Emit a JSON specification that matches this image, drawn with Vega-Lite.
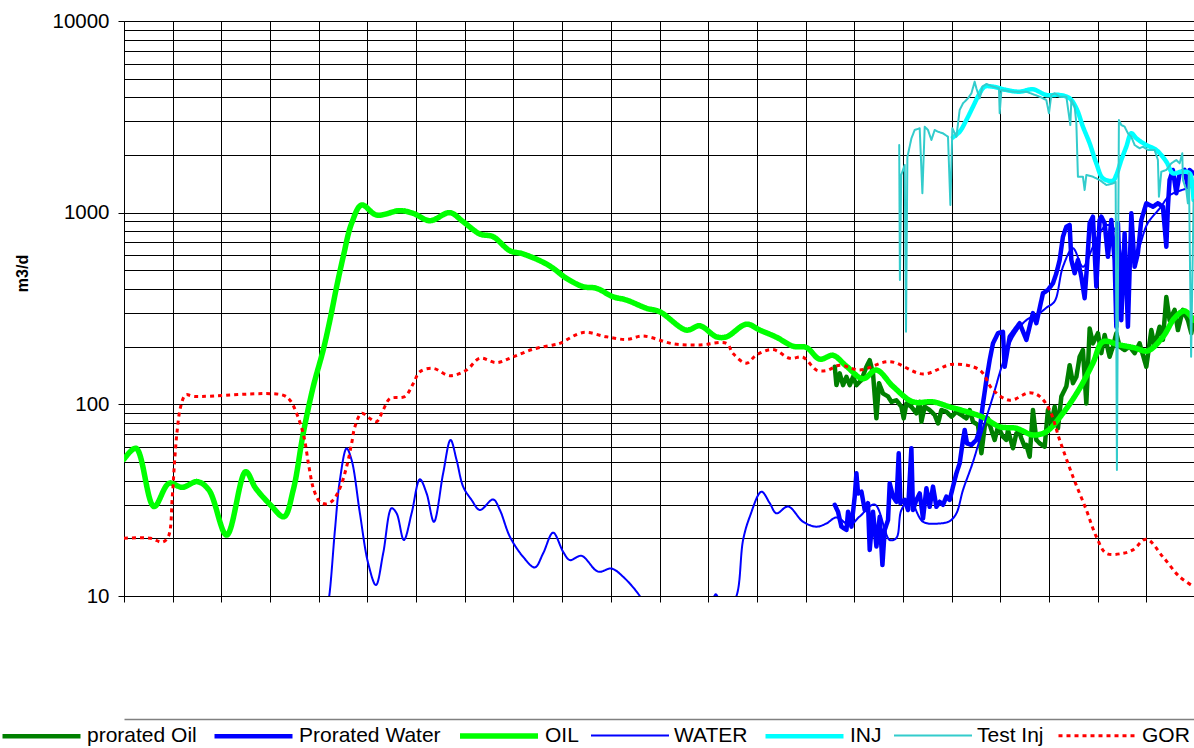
{
"$schema": "https://vega.github.io/schema/vega-lite/v6.json",
"width": 1071, "height": 575,
"autosize": "none",
"padding": {"left": 124, "top": 21, "right": 0, "bottom": 152},
"background": "white",
"datasets": {"d": [
{"s":"prorated Oil","t":14.600,"v":157},{"s":"prorated Oil","t":14.635,"v":126},{"s":"prorated Oil","t":14.702,"v":145},{"s":"prorated Oil","t":14.770,"v":126},{"s":"prorated Oil","t":14.840,"v":139},{"s":"prorated Oil","t":14.908,"v":126},{"s":"prorated Oil","t":14.975,"v":139},{"s":"prorated Oil","t":15.045,"v":126},{"s":"prorated Oil","t":15.148,"v":134},{"s":"prorated Oil","t":15.250,"v":157},{"s":"prorated Oil","t":15.318,"v":170},{"s":"prorated Oil","t":15.386,"v":145},{"s":"prorated Oil","t":15.456,"v":84.5},{"s":"prorated Oil","t":15.509,"v":129},{"s":"prorated Oil","t":15.591,"v":114},{"s":"prorated Oil","t":15.694,"v":110},{"s":"prorated Oil","t":15.764,"v":103},{"s":"prorated Oil","t":15.867,"v":105},{"s":"prorated Oil","t":15.969,"v":97.2},{"s":"prorated Oil","t":16.016,"v":84.5},{"s":"prorated Oil","t":16.072,"v":101},{"s":"prorated Oil","t":16.174,"v":97.2},{"s":"prorated Oil","t":16.277,"v":89.8},{"s":"prorated Oil","t":16.345,"v":103},{"s":"prorated Oil","t":16.380,"v":81.2},{"s":"prorated Oil","t":16.448,"v":97.2},{"s":"prorated Oil","t":16.550,"v":93.4},{"s":"prorated Oil","t":16.653,"v":88},{"s":"prorated Oil","t":16.721,"v":79.6},{"s":"prorated Oil","t":16.791,"v":93.4},{"s":"prorated Oil","t":16.893,"v":91.5},{"s":"prorated Oil","t":16.996,"v":86.2},{"s":"prorated Oil","t":17.099,"v":91.5},{"s":"prorated Oil","t":17.201,"v":88},{"s":"prorated Oil","t":17.304,"v":84.5},{"s":"prorated Oil","t":17.372,"v":93.4},{"s":"prorated Oil","t":17.439,"v":81.2},{"s":"prorated Oil","t":17.542,"v":78},{"s":"prorated Oil","t":17.612,"v":55.5},{"s":"prorated Oil","t":17.680,"v":76.4},{"s":"prorated Oil","t":17.747,"v":84.5},{"s":"prorated Oil","t":17.817,"v":73.5},{"s":"prorated Oil","t":17.885,"v":65.2},{"s":"prorated Oil","t":17.953,"v":76.4},{"s":"prorated Oil","t":18.055,"v":67.8},{"s":"prorated Oil","t":18.125,"v":65.2},{"s":"prorated Oil","t":18.158,"v":73.5},{"s":"prorated Oil","t":18.261,"v":59},{"s":"prorated Oil","t":18.331,"v":70.6},{"s":"prorated Oil","t":18.398,"v":70.6},{"s":"prorated Oil","t":18.433,"v":66.5},{"s":"prorated Oil","t":18.501,"v":60.1},{"s":"prorated Oil","t":18.536,"v":61.4},{"s":"prorated Oil","t":18.604,"v":53.3},{"s":"prorated Oil","t":18.671,"v":93.4},{"s":"prorated Oil","t":18.741,"v":65.2},{"s":"prorated Oil","t":18.809,"v":62.6},{"s":"prorated Oil","t":18.912,"v":60.1},{"s":"prorated Oil","t":18.979,"v":93.4},{"s":"prorated Oil","t":19.049,"v":79.6},{"s":"prorated Oil","t":19.117,"v":97.2},{"s":"prorated Oil","t":19.185,"v":75},{"s":"prorated Oil","t":19.255,"v":110},{"s":"prorated Oil","t":19.357,"v":124},{"s":"prorated Oil","t":19.425,"v":160},{"s":"prorated Oil","t":19.493,"v":129},{"s":"prorated Oil","t":19.563,"v":139},{"s":"prorated Oil","t":19.630,"v":177},{"s":"prorated Oil","t":19.698,"v":192},{"s":"prorated Oil","t":19.768,"v":101},{"s":"prorated Oil","t":19.836,"v":249},{"s":"prorated Oil","t":19.903,"v":208},{"s":"prorated Oil","t":20.006,"v":235},{"s":"prorated Oil","t":20.076,"v":185},{"s":"prorated Oil","t":20.144,"v":230},{"s":"prorated Oil","t":20.246,"v":177},{"s":"prorated Oil","t":20.314,"v":200},{"s":"prorated Oil","t":20.384,"v":235},{"s":"prorated Oil","t":20.452,"v":200},{"s":"prorated Oil","t":20.554,"v":192},{"s":"prorated Oil","t":20.657,"v":200},{"s":"prorated Oil","t":20.760,"v":185},{"s":"prorated Oil","t":20.862,"v":208},{"s":"prorated Oil","t":21.000,"v":157},{"s":"prorated Oil","t":21.103,"v":244},{"s":"prorated Oil","t":21.170,"v":200},{"s":"prorated Oil","t":21.273,"v":254},{"s":"prorated Oil","t":21.341,"v":217},{"s":"prorated Oil","t":21.411,"v":363},{"s":"prorated Oil","t":21.478,"v":275},{"s":"prorated Oil","t":21.581,"v":311},{"s":"prorated Oil","t":21.649,"v":244},{"s":"prorated Oil","t":21.752,"v":311},{"s":"prorated Oil","t":21.854,"v":275},{"s":"prorated Oil","t":21.924,"v":235},{"s":"prorated Oil","t":21.971,"v":275},
{"s":"Prorated Water","t":14.600,"v":29.9},{"s":"Prorated Water","t":14.667,"v":27.5},{"s":"Prorated Water","t":14.737,"v":23},{"s":"Prorated Water","t":14.840,"v":22.1},{"s":"Prorated Water","t":14.873,"v":27.5},{"s":"Prorated Water","t":14.943,"v":23},{"s":"Prorated Water","t":15.010,"v":33},{"s":"Prorated Water","t":15.045,"v":43.7},{"s":"Prorated Water","t":15.078,"v":34.3},{"s":"Prorated Water","t":15.148,"v":35},{"s":"Prorated Water","t":15.216,"v":28.1},{"s":"Prorated Water","t":15.283,"v":30.5},{"s":"Prorated Water","t":15.318,"v":17.4},{"s":"Prorated Water","t":15.386,"v":27.5},{"s":"Prorated Water","t":15.456,"v":18.1},{"s":"Prorated Water","t":15.524,"v":25.9},{"s":"Prorated Water","t":15.579,"v":14.5},{"s":"Prorated Water","t":15.626,"v":22.1},{"s":"Prorated Water","t":15.694,"v":24.9},{"s":"Prorated Water","t":15.729,"v":38.7},{"s":"Prorated Water","t":15.797,"v":33},{"s":"Prorated Water","t":15.867,"v":31},{"s":"Prorated Water","t":15.914,"v":55.5},{"s":"Prorated Water","t":15.949,"v":30.5},{"s":"Prorated Water","t":16.037,"v":31.7},{"s":"Prorated Water","t":16.105,"v":28.1},{"s":"Prorated Water","t":16.174,"v":59},{"s":"Prorated Water","t":16.207,"v":28.1},{"s":"Prorated Water","t":16.277,"v":31.7},{"s":"Prorated Water","t":16.345,"v":34.3},{"s":"Prorated Water","t":16.413,"v":25.4},{"s":"Prorated Water","t":16.483,"v":36.5},{"s":"Prorated Water","t":16.550,"v":29.2},{"s":"Prorated Water","t":16.618,"v":37.2},{"s":"Prorated Water","t":16.688,"v":29.2},{"s":"Prorated Water","t":16.756,"v":31},{"s":"Prorated Water","t":16.824,"v":29.9},{"s":"Prorated Water","t":16.893,"v":33},{"s":"Prorated Water","t":16.961,"v":31.7},{"s":"Prorated Water","t":17.029,"v":37.2},{"s":"Prorated Water","t":17.099,"v":43.7},{"s":"Prorated Water","t":17.166,"v":49.2},{"s":"Prorated Water","t":17.234,"v":65.2},{"s":"Prorated Water","t":17.269,"v":73.5},{"s":"Prorated Water","t":17.316,"v":62.6},{"s":"Prorated Water","t":17.407,"v":61.4},{"s":"Prorated Water","t":17.509,"v":65.2},{"s":"Prorated Water","t":17.577,"v":73.5},{"s":"Prorated Water","t":17.645,"v":101},{"s":"Prorated Water","t":17.715,"v":134},{"s":"Prorated Water","t":17.782,"v":170},{"s":"Prorated Water","t":17.850,"v":208},{"s":"Prorated Water","t":17.953,"v":235},{"s":"Prorated Water","t":18.055,"v":239},{"s":"Prorated Water","t":18.090,"v":157},{"s":"Prorated Water","t":18.193,"v":225},{"s":"Prorated Water","t":18.398,"v":265},{"s":"Prorated Water","t":18.536,"v":217},{"s":"Prorated Water","t":18.671,"v":299},{"s":"Prorated Water","t":18.741,"v":265},{"s":"Prorated Water","t":18.877,"v":380},{"s":"Prorated Water","t":18.979,"v":395},{"s":"Prorated Water","t":19.082,"v":428},{"s":"Prorated Water","t":19.152,"v":483},{"s":"Prorated Water","t":19.220,"v":566},{"s":"Prorated Water","t":19.287,"v":749},{"s":"Prorated Water","t":19.357,"v":845},{"s":"Prorated Water","t":19.425,"v":862},{"s":"Prorated Water","t":19.460,"v":566},{"s":"Prorated Water","t":19.528,"v":483},{"s":"Prorated Water","t":19.595,"v":566},{"s":"Prorated Water","t":19.665,"v":463},{"s":"Prorated Water","t":19.733,"v":358},{"s":"Prorated Water","t":19.780,"v":522},{"s":"Prorated Water","t":19.836,"v":880},{"s":"Prorated Water","t":19.903,"v":953},{"s":"Prorated Water","t":19.973,"v":411},{"s":"Prorated Water","t":20.041,"v":916},{"s":"Prorated Water","t":20.076,"v":953},{"s":"Prorated Water","t":20.144,"v":880},{"s":"Prorated Water","t":20.211,"v":589},{"s":"Prorated Water","t":20.281,"v":916},{"s":"Prorated Water","t":20.349,"v":566},{"s":"Prorated Water","t":20.384,"v":254},{"s":"Prorated Water","t":20.417,"v":880},{"s":"Prorated Water","t":20.486,"v":275},{"s":"Prorated Water","t":20.554,"v":780},{"s":"Prorated Water","t":20.622,"v":254},{"s":"Prorated Water","t":20.692,"v":992},{"s":"Prorated Water","t":20.760,"v":522},{"s":"Prorated Water","t":20.827,"v":614},{"s":"Prorated Water","t":20.897,"v":916},{"s":"Prorated Water","t":21.000,"v":1119},{"s":"Prorated Water","t":21.136,"v":1074},{"s":"Prorated Water","t":21.238,"v":1119},{"s":"Prorated Water","t":21.341,"v":1074},{"s":"Prorated Water","t":21.411,"v":664},{"s":"Prorated Water","t":21.444,"v":1074},{"s":"Prorated Water","t":21.478,"v":1480},{"s":"Prorated Water","t":21.546,"v":1670},{"s":"Prorated Water","t":21.616,"v":1262},{"s":"Prorated Water","t":21.684,"v":1605},{"s":"Prorated Water","t":21.786,"v":1670},{"s":"Prorated Water","t":21.854,"v":1366},{"s":"Prorated Water","t":21.889,"v":1670},{"s":"Prorated Water","t":21.971,"v":1605},
{"s":"OIL","t":0,"v":51.7},{"s":"OIL","t":0.246,"v":59},{"s":"OIL","t":0.616,"v":29.3},{"s":"OIL","t":0.924,"v":38.7},{"s":"OIL","t":1.197,"v":36.9},{"s":"OIL","t":1.505,"v":39.5},{"s":"OIL","t":1.745,"v":35.7},{"s":"OIL","t":2.109,"v":20.8},{"s":"OIL","t":2.499,"v":44.5},{"s":"OIL","t":2.704,"v":36.5},{"s":"OIL","t":3.012,"v":29.8},{"s":"OIL","t":3.285,"v":25.9},{"s":"OIL","t":3.476,"v":35.7},{"s":"OIL","t":3.682,"v":70.6},{"s":"OIL","t":3.887,"v":123.6},{"s":"OIL","t":4.092,"v":192},{"s":"OIL","t":4.230,"v":275},{"s":"OIL","t":4.368,"v":411},{"s":"OIL","t":4.503,"v":589},{"s":"OIL","t":4.676,"v":880},{"s":"OIL","t":4.881,"v":1096},{"s":"OIL","t":5.189,"v":972},{"s":"OIL","t":5.667,"v":1024},{"s":"OIL","t":5.940,"v":992},{"s":"OIL","t":6.283,"v":908},{"s":"OIL","t":6.694,"v":1000},{"s":"OIL","t":6.967,"v":897},{"s":"OIL","t":7.310,"v":774},{"s":"OIL","t":7.583,"v":749},{"s":"OIL","t":7.926,"v":633},{"s":"OIL","t":8.199,"v":609},{"s":"OIL","t":8.610,"v":551},{"s":"OIL","t":8.815,"v":513},{"s":"OIL","t":9.090,"v":454},{"s":"OIL","t":9.431,"v":411},{"s":"OIL","t":9.706,"v":403},{"s":"OIL","t":10.047,"v":364},{"s":"OIL","t":10.322,"v":350},{"s":"OIL","t":10.733,"v":317},{"s":"OIL","t":11.006,"v":304},{"s":"OIL","t":11.554,"v":244},{"s":"OIL","t":11.828,"v":257},{"s":"OIL","t":12.170,"v":225},{"s":"OIL","t":12.376,"v":225},{"s":"OIL","t":12.786,"v":262},{"s":"OIL","t":13.060,"v":244},{"s":"OIL","t":13.402,"v":224},{"s":"OIL","t":13.743,"v":201},{"s":"OIL","t":14.018,"v":198},{"s":"OIL","t":14.292,"v":172},{"s":"OIL","t":14.565,"v":180},{"s":"OIL","t":14.840,"v":158},{"s":"OIL","t":15.181,"v":136},{"s":"OIL","t":15.456,"v":151},{"s":"OIL","t":15.797,"v":124},{"s":"OIL","t":16.207,"v":103},{"s":"OIL","t":16.618,"v":103},{"s":"OIL","t":16.961,"v":97},{"s":"OIL","t":17.304,"v":91.6},{"s":"OIL","t":17.645,"v":85.6},{"s":"OIL","t":17.988,"v":76.4},{"s":"OIL","t":18.331,"v":75},{"s":"OIL","t":18.671,"v":69.2},{"s":"OIL","t":18.946,"v":72},{"s":"OIL","t":19.287,"v":89.8},{"s":"OIL","t":19.630,"v":121},{"s":"OIL","t":19.903,"v":164},{"s":"OIL","t":20.109,"v":212},{"s":"OIL","t":20.452,"v":204},{"s":"OIL","t":20.760,"v":197},{"s":"OIL","t":21.027,"v":190},{"s":"OIL","t":21.341,"v":225},{"s":"OIL","t":21.581,"v":282},{"s":"OIL","t":21.786,"v":307},{"s":"OIL","t":21.971,"v":275},
{"s":"WATER","t":4.148,"v":8},{"s":"WATER","t":4.216,"v":10},{"s":"WATER","t":4.333,"v":22.1},{"s":"WATER","t":4.435,"v":40.3},{"s":"WATER","t":4.573,"v":58.9},{"s":"WATER","t":4.676,"v":51.2},{"s":"WATER","t":4.846,"v":27},{"s":"WATER","t":5.016,"v":14.8},{"s":"WATER","t":5.175,"v":11.4},{"s":"WATER","t":5.324,"v":16.7},{"s":"WATER","t":5.497,"v":28.7},{"s":"WATER","t":5.600,"v":27},{"s":"WATER","t":5.749,"v":19.6},{"s":"WATER","t":5.908,"v":27},{"s":"WATER","t":6.078,"v":40.6},{"s":"WATER","t":6.216,"v":34.3},{"s":"WATER","t":6.366,"v":24.4},{"s":"WATER","t":6.556,"v":43.7},{"s":"WATER","t":6.708,"v":65.2},{"s":"WATER","t":6.832,"v":51.2},{"s":"WATER","t":6.967,"v":37.2},{"s":"WATER","t":7.140,"v":31.7},{"s":"WATER","t":7.310,"v":28.1},{"s":"WATER","t":7.583,"v":31.9},{"s":"WATER","t":7.721,"v":28.1},{"s":"WATER","t":7.926,"v":20.4},{"s":"WATER","t":8.199,"v":16},{"s":"WATER","t":8.439,"v":14.1},{"s":"WATER","t":8.610,"v":16.7},{"s":"WATER","t":8.815,"v":21.4},{"s":"WATER","t":9.021,"v":17},{"s":"WATER","t":9.158,"v":15.4},{"s":"WATER","t":9.398,"v":16.2},{"s":"WATER","t":9.739,"v":13.4},{"s":"WATER","t":10.014,"v":13.9},{"s":"WATER","t":10.253,"v":12.6},{"s":"WATER","t":10.595,"v":10},{"s":"WATER","t":10.801,"v":8},{"s":"WATER","t":11.622,"v":7},{"s":"WATER","t":12.115,"v":9.9},{"s":"WATER","t":12.156,"v":10.2},{"s":"WATER","t":12.197,"v":9.9},{"s":"WATER","t":12.402,"v":8.5},{"s":"WATER","t":12.581,"v":10},{"s":"WATER","t":12.717,"v":19.6},{"s":"WATER","t":12.854,"v":25.9},{"s":"WATER","t":13.094,"v":35},{"s":"WATER","t":13.265,"v":30.5},{"s":"WATER","t":13.402,"v":27},{"s":"WATER","t":13.641,"v":29.3},{"s":"WATER","t":13.949,"v":24.4},{"s":"WATER","t":14.224,"v":23},{"s":"WATER","t":14.429,"v":23.9},{"s":"WATER","t":14.634,"v":25.7},{"s":"WATER","t":14.908,"v":23.5},{"s":"WATER","t":15.113,"v":26},{"s":"WATER","t":15.421,"v":30},{"s":"WATER","t":15.729,"v":19.6},{"s":"WATER","t":15.867,"v":20.1},{"s":"WATER","t":15.969,"v":28.1},{"s":"WATER","t":16.140,"v":31.7},{"s":"WATER","t":16.413,"v":24.4},{"s":"WATER","t":16.756,"v":23.9},{"s":"WATER","t":16.961,"v":24.6},{"s":"WATER","t":17.099,"v":27},{"s":"WATER","t":17.234,"v":35.7},{"s":"WATER","t":17.439,"v":50},{"s":"WATER","t":17.645,"v":75},{"s":"WATER","t":17.850,"v":110},{"s":"WATER","t":18.055,"v":165},{"s":"WATER","t":18.261,"v":225},{"s":"WATER","t":18.536,"v":275},{"s":"WATER","t":18.809,"v":299},{"s":"WATER","t":18.953,"v":320},{"s":"WATER","t":19.117,"v":345},{"s":"WATER","t":19.287,"v":522},{"s":"WATER","t":19.493,"v":652},{"s":"WATER","t":19.698,"v":522},{"s":"WATER","t":19.903,"v":664},{"s":"WATER","t":20.041,"v":780},{"s":"WATER","t":20.185,"v":862},{"s":"WATER","t":20.349,"v":820},{"s":"WATER","t":20.554,"v":560},{"s":"WATER","t":20.760,"v":590},{"s":"WATER","t":21.027,"v":880},{"s":"WATER","t":21.273,"v":1050},{"s":"WATER","t":21.478,"v":1230},{"s":"WATER","t":21.684,"v":1300},{"s":"WATER","t":21.889,"v":1350},
{"s":"INJ","t":17.029,"v":2473},{"s":"INJ","t":17.166,"v":2645},{"s":"INJ","t":17.304,"v":3043},{"s":"INJ","t":17.439,"v":3570},{"s":"INJ","t":17.577,"v":4194},{"s":"INJ","t":17.680,"v":4542},{"s":"INJ","t":17.850,"v":4542},{"s":"INJ","t":18.125,"v":4365},{"s":"INJ","t":18.398,"v":4277},{"s":"INJ","t":18.671,"v":4400},{"s":"INJ","t":18.946,"v":4110},{"s":"INJ","t":19.220,"v":4110},{"s":"INJ","t":19.425,"v":3950},{"s":"INJ","t":19.563,"v":3504},{"s":"INJ","t":19.698,"v":2809},{"s":"INJ","t":19.836,"v":2301},{"s":"INJ","t":19.973,"v":1809},{"s":"INJ","t":20.109,"v":1511},{"s":"INJ","t":20.314,"v":1468},{"s":"INJ","t":20.384,"v":1572},{"s":"INJ","t":20.486,"v":1883},{"s":"INJ","t":20.589,"v":2209},{"s":"INJ","t":20.692,"v":2594},{"s":"INJ","t":20.795,"v":2443},{"s":"INJ","t":21.000,"v":2254},{"s":"INJ","t":21.205,"v":2123},{"s":"INJ","t":21.411,"v":1845},{"s":"INJ","t":21.546,"v":1605},{"s":"INJ","t":21.719,"v":1636},{"s":"INJ","t":21.889,"v":1605},{"s":"INJ","t":21.945,"v":1366},{"s":"INJ","t":21.971,"v":1164},
{"s":"Test Inj","t":15.924,"v":2254},{"s":"Test Inj","t":15.938,"v":445},{"s":"Test Inj","t":15.965,"v":1572},{"s":"Test Inj","t":16.037,"v":1773},{"s":"Test Inj","t":16.064,"v":239},{"s":"Test Inj","t":16.092,"v":1952},{"s":"Test Inj","t":16.175,"v":2443},{"s":"Test Inj","t":16.242,"v":2700},{"s":"Test Inj","t":16.345,"v":2755},{"s":"Test Inj","t":16.400,"v":1262},{"s":"Test Inj","t":16.448,"v":2809},{"s":"Test Inj","t":16.515,"v":2700},{"s":"Test Inj","t":16.585,"v":2394},{"s":"Test Inj","t":16.653,"v":2700},{"s":"Test Inj","t":16.721,"v":2645},{"s":"Test Inj","t":16.823,"v":2594},{"s":"Test Inj","t":16.926,"v":2490},{"s":"Test Inj","t":16.975,"v":1096},{"s":"Test Inj","t":17.016,"v":2755},{"s":"Test Inj","t":17.099,"v":2490},{"s":"Test Inj","t":17.166,"v":3432},{"s":"Test Inj","t":17.234,"v":3720},{"s":"Test Inj","t":17.337,"v":3950},{"s":"Test Inj","t":17.407,"v":4194},{"s":"Test Inj","t":17.474,"v":4823},{"s":"Test Inj","t":17.509,"v":4455},{"s":"Test Inj","t":17.577,"v":3950},{"s":"Test Inj","t":17.632,"v":4542},{"s":"Test Inj","t":17.715,"v":4692},{"s":"Test Inj","t":17.850,"v":4542},{"s":"Test Inj","t":17.973,"v":4455},{"s":"Test Inj","t":17.988,"v":3299},{"s":"Test Inj","t":18.023,"v":4365},{"s":"Test Inj","t":18.261,"v":4277},{"s":"Test Inj","t":18.536,"v":4277},{"s":"Test Inj","t":18.809,"v":4027},{"s":"Test Inj","t":18.946,"v":3870},{"s":"Test Inj","t":19.000,"v":3299},{"s":"Test Inj","t":19.049,"v":4110},{"s":"Test Inj","t":19.117,"v":4194},{"s":"Test Inj","t":19.220,"v":4027},{"s":"Test Inj","t":19.357,"v":4027},{"s":"Test Inj","t":19.439,"v":2867},{"s":"Test Inj","t":19.460,"v":3870},{"s":"Test Inj","t":19.528,"v":3570},{"s":"Test Inj","t":19.563,"v":2926},{"s":"Test Inj","t":19.595,"v":1540},{"s":"Test Inj","t":19.698,"v":1540},{"s":"Test Inj","t":19.733,"v":1313},{"s":"Test Inj","t":19.768,"v":1572},{"s":"Test Inj","t":19.903,"v":1540},{"s":"Test Inj","t":20.041,"v":1480},{"s":"Test Inj","t":20.179,"v":1394},{"s":"Test Inj","t":20.314,"v":1420},{"s":"Test Inj","t":20.370,"v":1450},{"s":"Test Inj","t":20.396,"v":45.4},{"s":"Test Inj","t":20.437,"v":3043},{"s":"Test Inj","t":20.486,"v":2867},{"s":"Test Inj","t":20.554,"v":2809},{"s":"Test Inj","t":20.622,"v":2594},{"s":"Test Inj","t":20.692,"v":2490},{"s":"Test Inj","t":20.760,"v":2254},{"s":"Test Inj","t":20.862,"v":2167},{"s":"Test Inj","t":20.930,"v":2210},{"s":"Test Inj","t":21.033,"v":2123},{"s":"Test Inj","t":21.170,"v":2123},{"s":"Test Inj","t":21.238,"v":1883},{"s":"Test Inj","t":21.259,"v":1211},{"s":"Test Inj","t":21.308,"v":1636},{"s":"Test Inj","t":21.411,"v":1670},{"s":"Test Inj","t":21.513,"v":1809},{"s":"Test Inj","t":21.616,"v":1883},{"s":"Test Inj","t":21.684,"v":1809},{"s":"Test Inj","t":21.739,"v":2040},{"s":"Test Inj","t":21.752,"v":1480},{"s":"Test Inj","t":21.821,"v":1313},{"s":"Test Inj","t":21.854,"v":1119},{"s":"Test Inj","t":21.875,"v":1605},{"s":"Test Inj","t":21.920,"v":177},{"s":"Test Inj","t":21.971,"v":1164},
{"s":"GOR","t":0,"v":20},{"s":"GOR","t":0.548,"v":20},{"s":"GOR","t":0.786,"v":19.1},{"s":"GOR","t":0.910,"v":20.4},{"s":"GOR","t":0.992,"v":33},{"s":"GOR","t":1.041,"v":51.2},{"s":"GOR","t":1.094,"v":73.5},{"s":"GOR","t":1.164,"v":97.2},{"s":"GOR","t":1.267,"v":112},{"s":"GOR","t":1.437,"v":110},{"s":"GOR","t":3.251,"v":112},{"s":"GOR","t":3.409,"v":105},{"s":"GOR","t":3.559,"v":88},{"s":"GOR","t":3.696,"v":67.8},{"s":"GOR","t":3.799,"v":47.3},{"s":"GOR","t":3.901,"v":35.7},{"s":"GOR","t":4.025,"v":31},{"s":"GOR","t":4.162,"v":30.2},{"s":"GOR","t":4.298,"v":31.7},{"s":"GOR","t":4.435,"v":36.5},{"s":"GOR","t":4.573,"v":47.3},{"s":"GOR","t":4.676,"v":62.5},{"s":"GOR","t":4.743,"v":76.4},{"s":"GOR","t":4.881,"v":89.8},{"s":"GOR","t":5.051,"v":84.4},{"s":"GOR","t":5.189,"v":81.2},{"s":"GOR","t":5.324,"v":93.4},{"s":"GOR","t":5.462,"v":107},{"s":"GOR","t":5.770,"v":110},{"s":"GOR","t":5.940,"v":128},{"s":"GOR","t":6.078,"v":148},{"s":"GOR","t":6.351,"v":154},{"s":"GOR","t":6.694,"v":141},{"s":"GOR","t":7.037,"v":151},{"s":"GOR","t":7.310,"v":174},{"s":"GOR","t":7.653,"v":165},{"s":"GOR","t":7.994,"v":177},{"s":"GOR","t":8.405,"v":194},{"s":"GOR","t":8.815,"v":204},{"s":"GOR","t":8.953,"v":208},{"s":"GOR","t":9.431,"v":237},{"s":"GOR","t":9.912,"v":225},{"s":"GOR","t":10.322,"v":218},{"s":"GOR","t":10.663,"v":227},{"s":"GOR","t":11.279,"v":207},{"s":"GOR","t":11.828,"v":204},{"s":"GOR","t":12.376,"v":208},{"s":"GOR","t":12.511,"v":184},{"s":"GOR","t":12.786,"v":164},{"s":"GOR","t":12.992,"v":181},{"s":"GOR","t":13.333,"v":193},{"s":"GOR","t":13.676,"v":174},{"s":"GOR","t":13.949,"v":176},{"s":"GOR","t":14.224,"v":151},{"s":"GOR","t":14.429,"v":150},{"s":"GOR","t":14.702,"v":160},{"s":"GOR","t":15.113,"v":151},{"s":"GOR","t":15.729,"v":167},{"s":"GOR","t":16.413,"v":144},{"s":"GOR","t":17.029,"v":162},{"s":"GOR","t":17.577,"v":151},{"s":"GOR","t":17.850,"v":119},{"s":"GOR","t":18.193,"v":105},{"s":"GOR","t":18.604,"v":115},{"s":"GOR","t":18.809,"v":110},{"s":"GOR","t":19.014,"v":93.4},{"s":"GOR","t":19.220,"v":65.2},{"s":"GOR","t":19.493,"v":41.9},{"s":"GOR","t":19.768,"v":28.1},{"s":"GOR","t":19.973,"v":20.4},{"s":"GOR","t":20.179,"v":16.7},{"s":"GOR","t":20.520,"v":16.7},{"s":"GOR","t":20.725,"v":17.4},{"s":"GOR","t":21.000,"v":19.8},{"s":"GOR","t":21.341,"v":16},{"s":"GOR","t":21.684,"v":12.6},{"s":"GOR","t":21.971,"v":11.2}
]},
"data": {"name": "d"},
"encoding": {
  "x": {"field": "t", "type": "quantitative",
    "scale": {"domain": [0, 22], "nice": false, "zero": false},
    "axis": {"values": [0,1,2,3,4,5,6,7,8,9,10,11,12,13,14,15,16,17,18,19,20,21,22], "grid": true, "labels": false, "ticks": true, "tickSize": 6, "title": null, "domainColor": "#000", "tickColor": "#000", "gridColor": "#000"}},
  "y": {"field": "v", "type": "quantitative",
    "scale": {"type": "log", "domain": [10, 10000], "nice": false},
    "axis": {"values": [10,20,30,40,50,60,70,80,90,100,200,300,400,500,600,700,800,900,1000,2000,3000,4000,5000,6000,7000,8000,9000,10000],
      "grid": true, "gridColor": "#000", "format": "d",
      "labelExpr": "(datum.value == 10 || datum.value == 100 || datum.value == 1000 || datum.value == 10000) ? datum.label : ''",
      "tickColor": {"condition": {"test": "datum.value == 10 || datum.value == 100 || datum.value == 1000 || datum.value == 10000", "value": "#000"}, "value": "transparent"},
      "tickSize": 6, "labelFontSize": 20.5, "labelPadding": 9, "labelOverlap": false, "labelBound": false, "labelColor": "#000",
      "domainColor": "#000",
      "title": "m3/d", "titleFontSize": 16, "titleFontWeight": "bold", "titleColor": "#000", "titleX": -94, "titleY": 252, "titleAngle": 270, "titleAlign": "center", "titleBaseline": "bottom"}},
  "color": {"field": "s", "type": "nominal",
    "scale": {"domain": ["prorated Oil","Prorated Water","OIL","WATER","INJ","Test Inj","GOR"], "range": ["#008000","#0000FF","#00FF00","#0000FF","#00FFFF","#33CCCC","#FF0000"]},
    "legend": {"title": null, "orient": "none", "legendX": -124, "legendY": 673, "direction": "horizontal", "symbolType": "stroke", "symbolSize": 6084, "labelFontSize": 21, "labelColor": "#000", "labelOffset": 4, "columnPadding": 8, "padding": 0}},
  "strokeWidth": {"field": "s", "type": "nominal",
    "scale": {"type": "ordinal", "domain": ["prorated Oil","Prorated Water","OIL","WATER","INJ","Test Inj","GOR"], "range": [4.5,4.5,5.5,2,4.5,2,3]},
    "legend": {"title": null, "orient": "none", "legendX": -124, "legendY": 673, "direction": "horizontal", "symbolType": "stroke", "symbolSize": 6084, "labelFontSize": 21, "labelColor": "#000", "labelOffset": 4, "columnPadding": 8, "padding": 0}},
  "strokeDash": {"field": "s", "type": "nominal",
    "scale": {"type": "ordinal", "domain": ["prorated Oil","Prorated Water","OIL","WATER","INJ","Test Inj","GOR"], "range": [[1,0],[1,0],[1,0],[1,0],[1,0],[1,0],[4,4]]},
    "legend": {"title": null, "orient": "none", "legendX": -124, "legendY": 673, "direction": "horizontal", "symbolType": "stroke", "symbolSize": 6084, "labelFontSize": 21, "labelColor": "#000", "labelOffset": 4, "columnPadding": 8, "padding": 0}}
},
"layer": [
  {"layer": [
    {"transform": [{"filter": "datum.s == 'prorated Oil'"}], "mark": {"type": "line", "clip": true, "strokeJoin": "round", "strokeCap": "round"}},
    {"transform": [{"filter": "datum.s == 'Prorated Water'"}], "mark": {"type": "line", "clip": true, "strokeJoin": "round", "strokeCap": "round"}},
    {"transform": [{"filter": "datum.s == 'OIL'"}], "mark": {"type": "line", "clip": true, "interpolate": "catmull-rom", "strokeJoin": "round", "strokeCap": "round"}},
    {"transform": [{"filter": "datum.s == 'WATER'"}], "mark": {"type": "line", "clip": true, "interpolate": "catmull-rom", "strokeJoin": "round", "strokeCap": "round"}},
    {"transform": [{"filter": "datum.s == 'INJ'"}], "mark": {"type": "line", "clip": true, "interpolate": "catmull-rom", "strokeJoin": "round", "strokeCap": "round"}},
    {"transform": [{"filter": "datum.s == 'Test Inj'"}], "mark": {"type": "line", "clip": true, "strokeJoin": "round", "strokeCap": "round"}}
  ]},
  {"transform": [{"filter": "datum.s == 'GOR'"}], "mark": {"type": "line", "clip": true, "interpolate": "catmull-rom"},
   "encoding": {"x": {"field": "t", "type": "quantitative", "scale": {"domain": [0, 22], "nice": false, "zero": false},
     "axis": {"orient": "bottom", "offset": 123, "domainColor": "#808080", "domainWidth": 1.5, "ticks": false, "labels": false, "grid": false, "title": null}}}}
],
"resolve": {"axis": {"x": "independent"}},
"config": {
  "view": {"stroke": null},
  "font": "Liberation Sans",
  "axis": {"labelFont": "Liberation Sans", "titleFont": "Liberation Sans", "gridOpacity": 1, "gridWidth": 1, "domainWidth": 1},
  "legend": {"labelFont": "Liberation Sans"}
}
}
